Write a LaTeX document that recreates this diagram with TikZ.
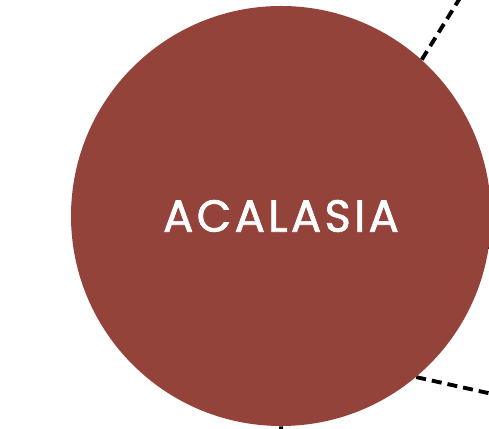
\documentclass[tikz,border=0pt]{standalone}
\usepackage{fontspec}
\setmainfont{Poppins}
\newfontfamily\topicfont[LetterSpace=7.5,FakeBold=1.6]{Poppins}
\usepackage{xcolor}
\usetikzlibrary{backgrounds}
\definecolor{topicred}{RGB}{147,67,58}

\tikzset{
    topic/.style={shape=circle,fill=topicred,minimum size=8.4cm,inner sep=0pt,
        text=white,font=\topicfont\fontsize{25.5}{30}\selectfont},
    link/.style={draw=black,line width=2.2pt,dash pattern=on 0.2cm off 0.12cm}
}

\begin{document}
\begin{tikzpicture}
    \useasboundingbox (0,0) rectangle (9.78,8.58);
    \clip (0,0) rectangle (9.78,8.58);

    \node[topic] (acalasia) at (5.62,4.26) {ACALASIA};

    \coordinate (up) at (9.92,9.78);
    \coordinate (right) at (9.9,4.9);
    \coordinate (downright) at (11.2,0.4);
    \coordinate (down) at (5.68,-1.0);

    \begin{pgfonlayer}{background}
    \path[link] (acalasia.48) -- (up);
    \path[link] (acalasia.-9) -- (right);
    \path[link] (acalasia.-50) -- (downright);
    \path[link] (acalasia.-90) -- (down);
    \end{pgfonlayer}
\end{tikzpicture}
\end{document}
